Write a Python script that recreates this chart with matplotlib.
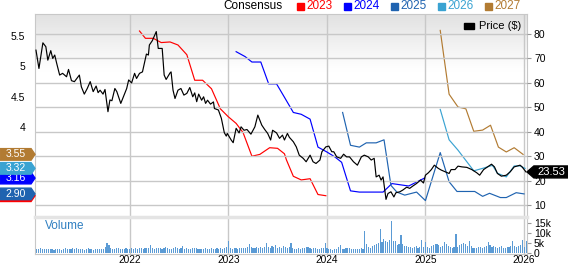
import matplotlib.pyplot as plt
import numpy as np
from matplotlib.patches import Polygon, Rectangle
import matplotlib.transforms as mtransforms
from matplotlib.colors import LinearSegmentedColormap

plt.rcParams['font.family'] = ['Liberation Sans', 'DejaVu Sans']

# Price ($) - decimal year / close
price_t = [2021.05, 2021.08, 2021.12, 2021.15, 2021.17, 2021.20, 2021.22, 2021.24, 2021.26, 2021.29,
           2021.32, 2021.36, 2021.38, 2021.41, 2021.44, 2021.49, 2021.51, 2021.54, 2021.57, 2021.60,
           2021.63, 2021.66, 2021.68, 2021.70, 2021.73, 2021.75, 2021.78, 2021.80, 2021.82, 2021.85,
           2021.87, 2021.91, 2021.93, 2021.97, 2021.99, 2022.02, 2022.05, 2022.07, 2022.10, 2022.13,
           2022.17, 2022.19, 2022.20, 2022.23, 2022.27, 2022.29, 2022.33, 2022.35, 2022.37, 2022.41,
           2022.42, 2022.44, 2022.46, 2022.49, 2022.52, 2022.55, 2022.58, 2022.61, 2022.64, 2022.66,
           2022.68, 2022.70, 2022.73, 2022.75, 2022.77, 2022.79, 2022.82, 2022.85, 2022.86, 2022.90,
           2022.93, 2022.96, 2022.98, 2022.99, 2023.03, 2023.05, 2023.08, 2023.11, 2023.13, 2023.16,
           2023.19, 2023.23, 2023.27, 2023.30, 2023.34, 2023.37, 2023.40, 2023.43, 2023.45, 2023.49,
           2023.52, 2023.55, 2023.57, 2023.60, 2023.62, 2023.66, 2023.69, 2023.72, 2023.76, 2023.79,
           2023.83, 2023.86, 2023.89, 2023.93, 2023.95, 2023.99, 2024.02, 2024.05, 2024.07, 2024.10,
           2024.14, 2024.17, 2024.20, 2024.23, 2024.27, 2024.31, 2024.35, 2024.38, 2024.42, 2024.45,
           2024.48, 2024.50, 2024.53, 2024.55, 2024.57, 2024.60, 2024.62, 2024.65, 2024.68, 2024.70,
           2024.74, 2024.77, 2024.81, 2024.84, 2024.87, 2024.91, 2024.95, 2024.98, 2025.00, 2025.03,
           2025.06, 2025.09, 2025.13, 2025.16, 2025.20, 2025.24, 2025.26, 2025.30, 2025.33, 2025.37,
           2025.42, 2025.47, 2025.52, 2025.55, 2025.59, 2025.63, 2025.67, 2025.70, 2025.73, 2025.77,
           2025.82, 2025.86, 2025.90, 2025.96, 2025.98, 2026.01, 2026.02]
price_v = [73.4, 65.9, 76.4, 74.8, 69.3, 73.2, 70.0, 71.4, 68.0, 63.2,
           63.9, 62.5, 65.5, 60.9, 60.5, 63.2, 58.4, 55.4, 57.7, 60.5,
           56.4, 58.7, 56.0, 57.0, 55.4, 57.3, 48.2, 53.0, 52.7, 57.7,
           56.4, 51.6, 53.6, 57.7, 61.2, 60.0, 63.9, 61.8, 63.9, 64.5,
           71.8, 71.4, 75.5, 77.3, 81.0, 74.1, 74.1, 63.2, 61.4, 64.1,
           64.5, 57.0, 53.6, 57.0, 57.7, 55.0, 55.7, 58.1, 54.3, 55.9,
           52.3, 55.4, 52.9, 54.3, 51.6, 52.9, 51.3, 52.2, 49.5, 48.9,
           45.5, 39.6, 38.2, 39.3, 36.6, 35.5, 41.4, 39.5, 42.0, 40.6,
           40.9, 39.0, 42.0, 46.8, 42.7, 40.9, 39.3, 36.6, 40.6, 39.5,
           37.3, 38.6, 36.6, 39.3, 37.7, 35.9, 33.8, 30.4, 29.1, 27.7,
           30.4, 27.7, 27.0, 28.4, 31.8, 33.8, 34.1, 31.8, 31.8, 29.7,
           29.1, 30.8, 29.7, 29.7, 27.7, 26.3, 29.7, 30.4, 29.7, 28.4,
           29.1, 21.5, 22.2, 20.2, 21.5, 12.3, 14.7, 15.4, 13.3, 15.0,
           15.4, 16.1, 17.3, 16.8, 17.7, 18.8, 20.2, 19.0, 22.2, 23.2,
           24.5, 26.3, 25.0, 24.3, 23.6, 22.9, 24.5, 24.5, 25.9, 25.6,
           25.4, 24.5, 23.2, 22.2, 24.5, 25.6, 26.7, 25.6, 22.9, 21.8,
           22.2, 23.6, 25.6, 26.3, 25.6, 24.0, 23.53]

# Consensus EPS estimates by fiscal year
eps_2023_t = [2022.10, 2022.16, 2022.24, 2022.32, 2022.41, 2022.49, 2022.58, 2022.66, 2022.74, 2022.83,
              2022.92, 2023.00, 2023.08, 2023.15, 2023.24, 2023.32, 2023.42, 2023.50, 2023.57, 2023.59,
              2023.66, 2023.74, 2023.83, 2023.91, 2023.99]
eps_2023_v = [5.58, 5.46, 5.46, 5.39, 5.40, 5.35, 5.19, 4.77, 4.77, 4.63,
              4.30, 4.17, 4.06, 3.91, 3.52, 3.55, 3.66, 3.65, 3.56, 3.46,
              3.19, 3.13, 3.15, 2.89, 2.87]
eps_2024_t = [2023.08, 2023.17, 2023.24, 2023.33, 2023.41, 2023.49, 2023.57, 2023.66, 2023.74, 2023.83,
              2023.91, 2024.00, 2024.08, 2024.15, 2024.24, 2024.33, 2024.57, 2024.66, 2024.83, 2024.99]
eps_2024_v = [5.24, 5.16, 5.07, 5.07, 4.71, 4.71, 4.49, 4.24, 4.21, 4.13,
              3.67, 3.59, 3.51, 3.42, 2.95, 2.93, 2.93, 3.07, 3.03, 3.16]
eps_2025_t = [2024.16, 2024.24, 2024.33, 2024.40, 2024.50, 2024.58, 2024.65, 2024.71, 2024.79, 2024.91,
              2025.00, 2025.15, 2025.24, 2025.32, 2025.50, 2025.58, 2025.65, 2025.76, 2025.82, 2025.92,
              2026.00]
eps_2025_v = [4.24, 3.70, 3.67, 3.74, 3.74, 3.79, 3.04, 2.93, 2.88, 2.93,
              2.79, 3.58, 3.10, 2.94, 2.94, 2.86, 2.91, 2.84, 2.84, 2.92,
              2.90]
eps_2026_t = [2025.15, 2025.24, 2025.33, 2025.49, 2025.58, 2025.68, 2025.73, 2025.82, 2025.90, 2025.96, 2026.01]
eps_2026_v = [4.29, 3.79, 3.62, 3.28, 3.32, 3.37, 3.24, 3.18, 3.36, 3.36, 3.32]
eps_2027_t = [2025.15, 2025.24, 2025.33, 2025.41, 2025.49, 2025.58, 2025.66, 2025.74, 2025.82, 2025.90, 2025.99]
eps_2027_v = [5.59, 4.54, 4.33, 4.30, 3.93, 3.95, 4.03, 3.67, 3.59, 3.66, 3.55]

years = ["2023", "2024", "2025", "2026", "2027"]
colors = ["#ff0000", "#0000ff", "#1f63b0", "#3aa3d2", "#b27b32"]
eps_t = [eps_2023_t, eps_2024_t, eps_2025_t, eps_2026_t, eps_2027_t]
eps_v = [eps_2023_v, eps_2024_v, eps_2025_v, eps_2026_v, eps_2027_v]

# weekly volume (thousands), starting first week of 2021
vol_2021 = [2.4, 2.3, 2.1, 2.5, 2.2, 2.3, 2.0, 2.2, 2.4, 2.1, 1.9, 2.0, 2.3, 2.2, 1.9, 2.1, 2.6, 2.3,
            2.0, 2.4, 2.6, 2.2, 2.8, 2.1, 2.0, 2.3, 1.9, 2.2, 2.5, 2.3, 2.1, 1.8, 2.0, 2.2, 2.1, 2.4,
            2.3, 3.1, 5.2, 4.0, 2.6, 2.3, 2.1, 2.5, 2.8, 2.2, 2.0, 2.4, 2.7, 2.3, 2.1, 2.6]
vol_2022 = [2.2, 2.5, 2.4, 2.8, 2.6, 2.3, 2.9, 2.5, 2.7, 4.3, 2.6, 2.4, 2.9, 2.7, 2.5, 2.2, 2.8, 3.1,
            2.6, 2.4, 2.2, 2.7, 3.0, 2.5, 2.3, 2.8, 3.6, 2.4, 2.6, 2.2, 2.1, 2.9, 2.5, 2.7, 2.3, 2.0,
            2.4, 2.2, 2.6, 2.1, 2.3, 2.5, 2.0, 2.2, 2.6, 2.4, 2.8, 2.3, 2.5, 3.2, 6.0, 2.7]
vol_2023 = [2.4, 2.6, 2.5, 2.3, 2.7, 2.9, 2.5, 2.6, 3.1, 4.4, 3.2, 2.8, 2.6, 3.0, 2.7, 3.4, 2.9, 3.1,
            5.2, 3.3, 2.8, 3.5, 3.0, 4.1, 2.7, 3.2, 2.9, 3.6, 3.1, 2.8, 3.3, 5.2, 2.6, 2.4, 2.2, 2.5,
            2.3, 2.6, 2.9, 3.2, 3.0, 2.5, 2.3, 2.8, 2.6, 2.4, 2.2, 2.7, 2.5, 5.3, 2.6, 2.3]
vol_2024 = [2.2, 1.9, 2.4, 2.1, 3.2, 4.2, 2.3, 2.0, 2.6, 2.9, 2.5, 2.2, 2.1, 2.4, 2.0, 2.3, 2.5, 2.2,
            11.0, 4.5, 3.2, 2.8, 3.5, 4.1, 4.6, 5.3, 12.2, 5.8, 6.9, 6.1, 5.5, 6.4, 16.2, 6.2, 5.9, 4.1,
            4.8, 9.0, 4.5, 3.9, 3.6, 3.2, 3.0, 2.8, 3.3, 3.5, 2.9, 3.1, 6.5, 3.0, 5.6, 3.2]
vol_2025 = [2.8, 3.6, 4.3, 4.7, 4.5, 4.1, 3.2, 3.9, 5.4, 4.6, 3.8, 3.1, 2.9, 3.4, 9.6, 3.3, 4.0, 4.6,
            5.1, 4.8, 3.5, 6.0, 3.7, 2.8, 2.5, 2.7, 3.3, 3.0, 2.6, 3.1, 3.5, 5.6, 4.0, 3.4, 3.8, 3.1,
            2.7, 3.2, 3.6, 2.9, 2.6, 3.0, 3.4, 3.7, 6.1, 3.5, 3.3, 3.9, 4.2, 6.6, 3.0, 5.9]
volume = vol_2021 + vol_2022 + vol_2023 + vol_2024 + vol_2025
vol_t = 2021.04 + np.arange(len(volume)) / 52.0

grid_c = "#c8c8c8"
x_min, x_max = 2021.04, 2026.03

fig = plt.figure(figsize=(5.68, 2.64), dpi=100)
L, W = 35 / 568, 492 / 568
ax_e = fig.add_axes([L, 47 / 264, W, 203 / 264])
ax_v = fig.add_axes([L, 10 / 264, W, 37 / 264], sharex=ax_e)
ax_p = ax_e.twinx()

# gradient background of the price panel
cmap = LinearSegmentedColormap.from_list("bg", ["#ffffff", "#ffffff", "#e2e2e2"], N=256)
grad = np.concatenate([np.zeros(45), np.linspace(0, 1, 55)]).reshape(-1, 1)
ax_e.imshow(grad, extent=[0, 1, 0, 1], transform=ax_e.transAxes, origin="lower",
            aspect="auto", cmap=cmap, zorder=0, interpolation="bilinear")

for t, v, c in zip(eps_t, eps_v, colors):
    ax_e.plot(t, v, color=c, lw=0.85, zorder=3)
ax_p.plot(price_t, price_v, color="black", lw=0.85, zorder=4)

ax_e.set_xlim(x_min, x_max)
ax_e.set_ylim(2.52, 5.86)
ax_p.set_ylim(5.08, 88.2)

# grids
for yr in [2022, 2023, 2024, 2025, 2026]:
    ax_e.axvline(yr, color=grid_c, lw=1, zorder=1)
    ax_v.axvline(yr, color=grid_c, lw=1, zorder=0)
ax_p.set_yticks([10, 20, 30, 40, 50, 60, 70, 80])
for val in [10, 20, 30, 40, 50, 60, 70, 80]:
    ax_p.axhline(val, color=grid_c, lw=1, zorder=1)

ax_e.set_yticks([4, 4.5, 5, 5.5])
ax_e.set_yticklabels(["4", "4.5", "5", "5.5"])
ax_e.tick_params(axis="y", length=0, pad=7, labelsize=7.5)
ax_e.tick_params(axis="x", bottom=False, labelbottom=False)
ax_p.tick_params(axis="y", length=3, color="#999999", pad=2, labelsize=7.5)

for s in ax_e.spines.values():
    s.set_color(grid_c)
ax_e.spines["bottom"].set_visible(False)
for s in ax_p.spines.values():
    s.set_visible(False)

# volume panel
ax_v.bar(vol_t, volume, width=0.6 / 52, color="#5b9bd5", zorder=2)
ax_v.set_ylim(-0.3, 18)
ax_v.yaxis.tick_right()
ax_v.set_yticks([0, 5, 10, 15])
ax_v.set_yticklabels(["0", "5k", "10k", "15k"])
ax_v.tick_params(axis="y", length=3, color="#999999", pad=2, labelsize=7.5)
ax_v.set_xticks([2022, 2023, 2024, 2025, 2026])
ax_v.set_xticklabels(["2022", "2023", "2024", "2025", "2026"])
ax_v.tick_params(axis="x", length=0, pad=0.5, labelsize=7.3)
for s in ax_v.spines.values():
    s.set_color(grid_c)
ax_v.spines["top"].set_color("#e4e4e4")
ax_v.spines["top"].set_linewidth(2.5)
ax_v.text(0.02, 0.68, "Volume", transform=ax_v.transAxes, color="#2f7fc1", fontsize=8.5)

# left value tags for last consensus values (the 2023 tag sits hidden behind 2025)
tr_e = mtransforms.blended_transform_factory(ax_e.transAxes, ax_e.transData)
tag_vals = [2.87, 3.16, 2.90, 3.32, 3.55]
show_text = [False, True, True, True, True]
h = 0.19
for i, (val, c) in enumerate(zip(tag_vals, colors)):
    pts = [(-0.071, val - h / 2), (-0.008, val - h / 2), (0.0, val),
           (-0.008, val + h / 2), (-0.071, val + h / 2)]
    ax_e.add_patch(Polygon(pts, closed=True, color=c, transform=tr_e, clip_on=False,
                           zorder=5 + 2 * i))
    if show_text[i]:
        ax_e.text(-0.04, val, f"{val:.2f}", transform=tr_e, color="white", fontsize=7.5,
                  ha="center", va="center", clip_on=False, zorder=6 + 2 * i)

# right price tag
tr_p = mtransforms.blended_transform_factory(ax_p.transAxes, ax_p.transData)
last = price_v[-1]
hp = 4.9
pts = [(1.0, last), (1.014, last - hp / 2), (1.09, last - hp / 2),
       (1.09, last + hp / 2), (1.014, last + hp / 2)]
ax_p.add_patch(Polygon(pts, closed=True, color="black", transform=tr_p, clip_on=False, zorder=6))
ax_p.text(1.05, last, f"{last:.2f}", transform=tr_p, color="white", fontsize=8,
          ha="center", va="center", clip_on=False, zorder=7)

# price legend
fig.patches.append(Rectangle((464 / 568, 1 - 29 / 264), 10 / 568, 6 / 264, color="black",
                             transform=fig.transFigure))
fig.text(479 / 568, 1 - 26 / 264, "Price ($)", fontsize=8, va="center")

# consensus legend on top
fig.text(282 / 568, 1 - 6 / 264, "Consensus", fontsize=8.5, ha="right", va="center")
x0 = 297
for yr, c in zip(years, colors):
    fig.patches.append(Rectangle((x0 / 568, 1 - 10 / 264), 7 / 568, 7 / 264, color=c,
                                 transform=fig.transFigure))
    fig.text((x0 + 9) / 568, 1 - 6 / 264, yr, color=c, fontsize=8.5, va="center")
    x0 += 47

fig.savefig("out.png", dpi=100)
